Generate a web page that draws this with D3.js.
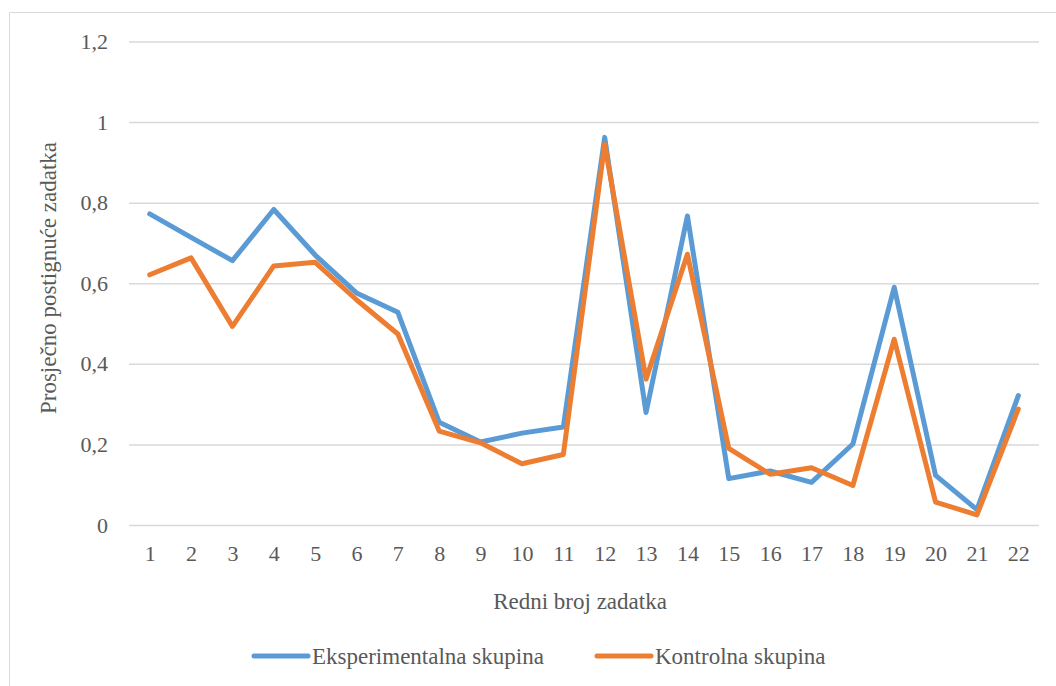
<!DOCTYPE html>
<html><head><meta charset="utf-8">
<script src="https://cdn.jsdelivr.net/npm/d3@7"></script>
<style>body{margin:0;background:#fff}svg{display:block}
svg text{font-family:"Liberation Serif","Times New Roman",Times,"DejaVu Serif",serif;}</style>
</head><body>
<script>
const categories = ["1","2","3","4","5","6","7","8","9","10","11","12","13","14","15","16","17","18","19","20","21","22"];
const eksperimentalna = [0.772,0.714,0.656,0.783,0.670,0.576,0.528,0.255,0.206,0.228,0.243,0.962,0.279,0.767,0.115,0.134,0.106,0.201,0.590,0.123,0.038,0.321];
const kontrolna = [0.621,0.663,0.493,0.643,0.652,0.559,0.474,0.233,0.204,0.152,0.175,0.945,0.362,0.672,0.190,0.126,0.142,0.098,0.461,0.057,0.025,0.288];
const yTicks = [0,0.2,0.4,0.6,0.8,1,1.2];
const seriesNames = ["Eksperimentalna skupina","Kontrolna skupina"];
const colors = ["#5B9BD5","#ED7D31"];

const W=1056,H=686;
const svg=d3.select("body").append("svg").attr("width",W).attr("height",H);
const textColor="#595959";

svg.append("path").attr("d",`M9.5,${H+5}V12.5H${W+5}`).attr("fill","none").attr("stroke","#D9D9D9").attr("stroke-width",1);

const x=d3.scalePoint().domain(categories).range([129,1039]).padding(0.5);
const y=d3.scaleLinear().domain([0,1.2]).range([525,41.5]);

const fmt=d=>String(d).replace(".",",");

const yAxis=svg.append("g").attr("transform","translate(129,0)")
  .call(d3.axisLeft(y).tickValues(yTicks).tickSize(-910).tickFormat(fmt).tickPadding(21));
yAxis.attr("font-family",null);
yAxis.select(".domain").remove();
yAxis.selectAll(".tick line").attr("stroke","#D9D9D9").attr("stroke-width",1.5);
yAxis.selectAll(".tick text").attr("font-size",22).attr("fill",textColor);

const xAxis=svg.append("g").attr("transform","translate(0,525)")
  .call(d3.axisBottom(x).tickSize(0).tickPadding(20));
xAxis.attr("font-family",null);
xAxis.select(".domain").remove();
xAxis.selectAll(".tick text").attr("font-size",22).attr("fill",textColor);

const line=d3.line().x((d,i)=>x(categories[i])).y(d=>y(d));
[eksperimentalna,kontrolna].forEach((s,k)=>{
  svg.append("path").datum(s).attr("d",line).attr("fill","none")
    .attr("stroke",colors[k]).attr("stroke-width",5).attr("stroke-linejoin","round").attr("stroke-linecap","round");
});

svg.append("text").attr("x",580).attr("y",609).attr("text-anchor","middle")
  .attr("font-size",23).attr("fill",textColor).text("Redni broj zadatka");
svg.append("text").attr("transform","translate(56,278) rotate(-90)").attr("text-anchor","middle")
  .attr("font-size",23).attr("fill",textColor).text("Prosječno postignuće zadatka");

const legX=[254,597];
seriesNames.forEach((n,k)=>{
  const g=svg.append("g");
  g.append("line").attr("x1",legX[k]).attr("x2",legX[k]+54).attr("y1",656).attr("y2",656)
    .attr("stroke",colors[k]).attr("stroke-width",5).attr("stroke-linecap","round");
  g.append("text").attr("x",legX[k]+58).attr("y",664).attr("font-size",23)
    .attr("fill",textColor).text(n);
});
</script>
</body></html>
